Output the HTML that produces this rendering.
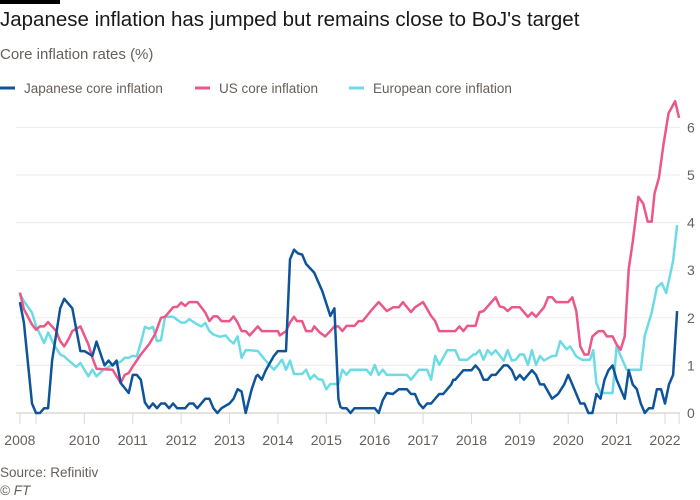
<!DOCTYPE html>
<html><head><meta charset="utf-8"><style>
body{margin:0;background:#fff;font-family:"Liberation Sans",sans-serif;}
#wrap{position:relative;width:700px;height:500px;overflow:hidden;}
.t{position:absolute;white-space:nowrap;}
</style></head><body>
<div id="wrap">
<div class="t" style="left:0;top:0;width:60px;height:4px;background:#000"></div>
<div class="t" style="left:0;top:8px;font-size:20.5px;color:#1a1817">Japanese inflation has jumped but remains close to BoJ's target</div>
<div class="t" style="left:0;top:46px;font-size:15px;color:#66605c">Core inflation rates (%)</div>
<div class="t" style="left:0;top:465px;font-size:13.5px;color:#66605c">Source: Refinitiv</div>
<div class="t" style="left:0;top:483px;font-size:13.5px;color:#66605c;font-style:italic">© FT</div>
<svg id="chart" width="700" height="500" style="position:absolute;left:0;top:0"></svg>
</div>
<script>
const jpMonths=[8,9,11,12,13,14,15,16,18,19,21,23,24,26,27,29,30,31,32,33,35,36,37,38,39,40,41,42,43,44,45,46,47,49,50,51,52,54,55,56,57,58,60,61,62,63,64,65.5,66.6,67,68,69,71,72,74,75,76,77,78,79,81,83,85,86,87,87.5,88,89,90,91,96,97,98,99,100.5,102,104,105,106,107,108,109,110,112,113,115,115.5,116,118,120,121,122,123,124,125,126,128,129,130,131,132,133,135,136,137,138,140,141.5,143,144,145,147,148,149,150,151,152,153,154,155,156,158,159,160,161,162,163,164,165,166,167,168,169,170,171];
const jpValues=[2.33,1.9,0.2,0,0,0.1,0.1,1.1,2.2,2.4,2.2,1.3,1.3,1.2,1.5,1.0,1.1,1.0,1.1,0.63,0.42,0.8,0.8,0.7,0.22,0.1,0.2,0.1,0.2,0.2,0.1,0.2,0.1,0.1,0.2,0.2,0.1,0.3,0.3,0.1,0,0.1,0.2,0.3,0.5,0.45,0,0.5,0.77,0.8,0.7,0.9,1.2,1.3,1.3,3.23,3.43,3.35,3.33,3.13,2.95,2.56,2.04,2.2,0.3,0.13,0.1,0.1,0,0.1,0.1,0,0.27,0.42,0.4,0.5,0.5,0.4,0.4,0.2,0.1,0.2,0.2,0.4,0.4,0.6,0.7,0.7,0.9,0.9,1.0,0.9,0.7,0.7,0.8,0.8,1.0,1.0,0.9,0.7,0.8,0.7,0.9,0.8,0.6,0.6,0.3,0.4,0.6,0.8,0.6,0.2,0.2,0,0,0.4,0.3,0.7,0.9,1.0,0.7,0.3,0.9,0.6,0.5,0.2,0,0.1,0.1,0.5,0.5,0.2,0.6,0.8,2.14];
const usMonths=[8,9,11,12,13,14,15,17,18,19,20,21,23,25,26,27,31,32,33,34,35,36,38,40,41.5,43,44,46,47,48,49,50,52,53,54,55,56,57,58,60,61,62,63,64,65,67,68,72,72.5,74,75,76,76.7,78,79,80.4,81,82.4,83.7,85,86,87,88,89,91,92,93,95,97,99,100.6,102,103,105,106,108,110,111,112,116,117,118,119,121,122,123,124,126,127,128,129,130,132,134,135,136,138,139,140,141,144,145,146,147,148,149,150,151.5,152.7,153.6,155,156,157,158,159,160,161.4,162.6,163.7,164.7,165.4,166.5,167.6,168.9,170.5,171.5];
const usValues=[2.53,2.18,1.86,1.75,1.82,1.82,1.91,1.72,1.51,1.4,1.54,1.72,1.82,1.44,1.16,0.93,0.91,0.77,0.63,0.8,0.84,0.98,1.23,1.44,1.65,2.0,2.02,2.22,2.23,2.32,2.25,2.33,2.33,2.22,2.11,1.93,2.03,2.03,1.93,1.93,2.03,1.9,1.72,1.72,1.63,1.82,1.72,1.72,1.63,1.72,1.9,2.02,1.93,1.93,1.72,1.72,1.82,1.69,1.61,1.72,1.82,1.82,1.72,1.83,1.83,1.93,1.93,2.14,2.33,2.14,2.22,2.22,2.33,2.12,2.22,2.33,2.04,1.93,1.72,1.72,1.82,1.72,1.83,1.83,2.12,2.14,2.24,2.43,2.24,2.22,2.14,2.22,2.22,2.02,2.11,2.02,2.22,2.43,2.43,2.33,2.33,2.43,2.14,1.4,1.23,1.23,1.61,1.72,1.72,1.61,1.61,1.44,1.33,1.61,3.02,3.59,4.54,4.4,4.02,4.02,4.61,4.94,5.63,6.3,6.55,6.2];
const euMonths=[8,9,11,12,14,15,16.7,18,19,20.4,22,23,25,26,27,28.7,31,33,34,35,36,37,38,39,40,41,42,43,44,46,48,49,50,52,53,54,55,56,57.6,59,60,61,62,63,64,65,67,68,69.6,71,72,73,74,75,76,78,79,80,81,82,83,84,85,87,88,89,90,94,95,96,97,98,99,104,105,107,109,110,111,112,114,116,117,119,120.5,121,122,123,124,125,126,128,129,130,131,132,133,134,135,136,137,138,140,141,142,143.6,144.5,146,147.4,149.4,150.2,151,152,155,156,158.5,162,163,164.7,166,167.2,168.3,170,171];
const euValues=[2.5,2.35,2.11,1.83,1.47,1.69,1.4,1.23,1.19,1.08,0.97,1.05,0.77,0.91,0.77,0.91,1.01,1.08,1.16,1.16,1.2,1.19,1.47,1.81,1.77,1.81,1.51,1.53,2.02,2.02,1.9,1.9,1.97,1.86,1.82,1.89,1.72,1.65,1.6,1.63,1.53,1.46,1.61,1.16,1.32,1.32,1.3,1.2,1.04,0.91,1.01,1.12,0.91,1.1,0.82,0.82,0.91,0.71,0.8,0.71,0.7,0.5,0.61,0.61,0.91,0.8,0.91,0.91,0.8,1.01,0.8,0.91,0.8,0.8,0.7,0.91,0.91,0.7,1.2,1.01,1.32,1.32,1.12,1.12,1.23,1.23,1.32,1.12,1.32,1.23,1.32,1.1,1.32,1.1,1.12,1.23,1.23,1.01,1.32,1.01,1.2,1.1,1.2,1.2,1.51,1.34,1.4,1.19,1.12,1.12,1.32,0.63,0.42,0.42,1.4,0.91,0.91,1.63,2.11,2.64,2.73,2.52,3.2,3.95];
const yTicks=[0,1,2,3,4,5,6];
const xTickYears=[2008,2010,2011,2012,2013,2014,2015,2016,2017,2018,2019,2020,2021,2022];
const legendLabels=["Japanese core inflation","US core inflation","European core inflation"];

const NS="http://www.w3.org/2000/svg";
const svg=document.getElementById('chart');
const X=m=>36+(m-12)*4.032;
const Y=v=>413-v*47.6;
function mk(tag,attrs){const e=document.createElementNS(NS,tag);for(const k in attrs)e.setAttribute(k,attrs[k]);svg.appendChild(e);return e;}

yTicks.forEach(v=>{
  const g=mk('line',{x1:16,x2:680,y1:Y(v),y2:Y(v),stroke:v===0?'#ddd8d3':'#efebe7','stroke-width':v===0?1.5:1});
  
  
  const t=mk('text',{x:687,y:Y(v)+5,'font-size':14,fill:'#66605c','font-family':'Liberation Sans, sans-serif'});
  t.textContent=v;
  
  
});
xTickYears.forEach(yr=>{
  const m=yr===2008?8:(yr-2008)*12;
  const x=X(m);
  const l=mk('line',{x1:x,x2:x,y1:413,y2:424,stroke:'#ddd8d3','stroke-width':1});
  
  
  const t=mk('text',{x:x,y:445,'font-size':14,fill:'#66605c','text-anchor':'middle','font-family':'Liberation Sans, sans-serif'});
  t.textContent=yr;
  
  
});
[2009].forEach(yr=>{const x=X((yr-2008)*12);const l=mk('line',{x1:x,x2:x,y1:413,y2:424,stroke:'#ddd8d3'});
  
  });
{const l=mk('line',{x1:X(171.5),x2:X(171.5),y1:413,y2:424,stroke:'#ddd8d3'});
  
  }

const series=[[euMonths,euValues,'#6ddbe6','european-core-inflation-line'],[usMonths,usValues,'#ea5788','us-core-inflation-line'],[jpMonths,jpValues,'#0f5499','japanese-core-inflation-line']];
series.forEach(s=>{
  const d=s[0].map((m,i)=>(i?'L':'M')+X(m).toFixed(1)+','+Y(s[1][i]).toFixed(1)).join('');
  const p=mk('path',{d:d,fill:'none',stroke:s[2],'stroke-width':2.5,'stroke-linejoin':'round'});
  
  
});
const lx=[0,195,349],lc=['#0f5499','#ea5788','#6ddbe6'];
legendLabels.forEach((lab,i)=>{
  const l=mk('line',{x1:lx[i],x2:lx[i]+15,y1:88,y2:88,stroke:lc[i],'stroke-width':3});
  
  
  const t=mk('text',{x:lx[i]+24,y:93,'font-size':13.5,fill:'#66605c','font-family':'Liberation Sans, sans-serif'});
  t.textContent=lab;
  
  
});
</script>
</body></html>
